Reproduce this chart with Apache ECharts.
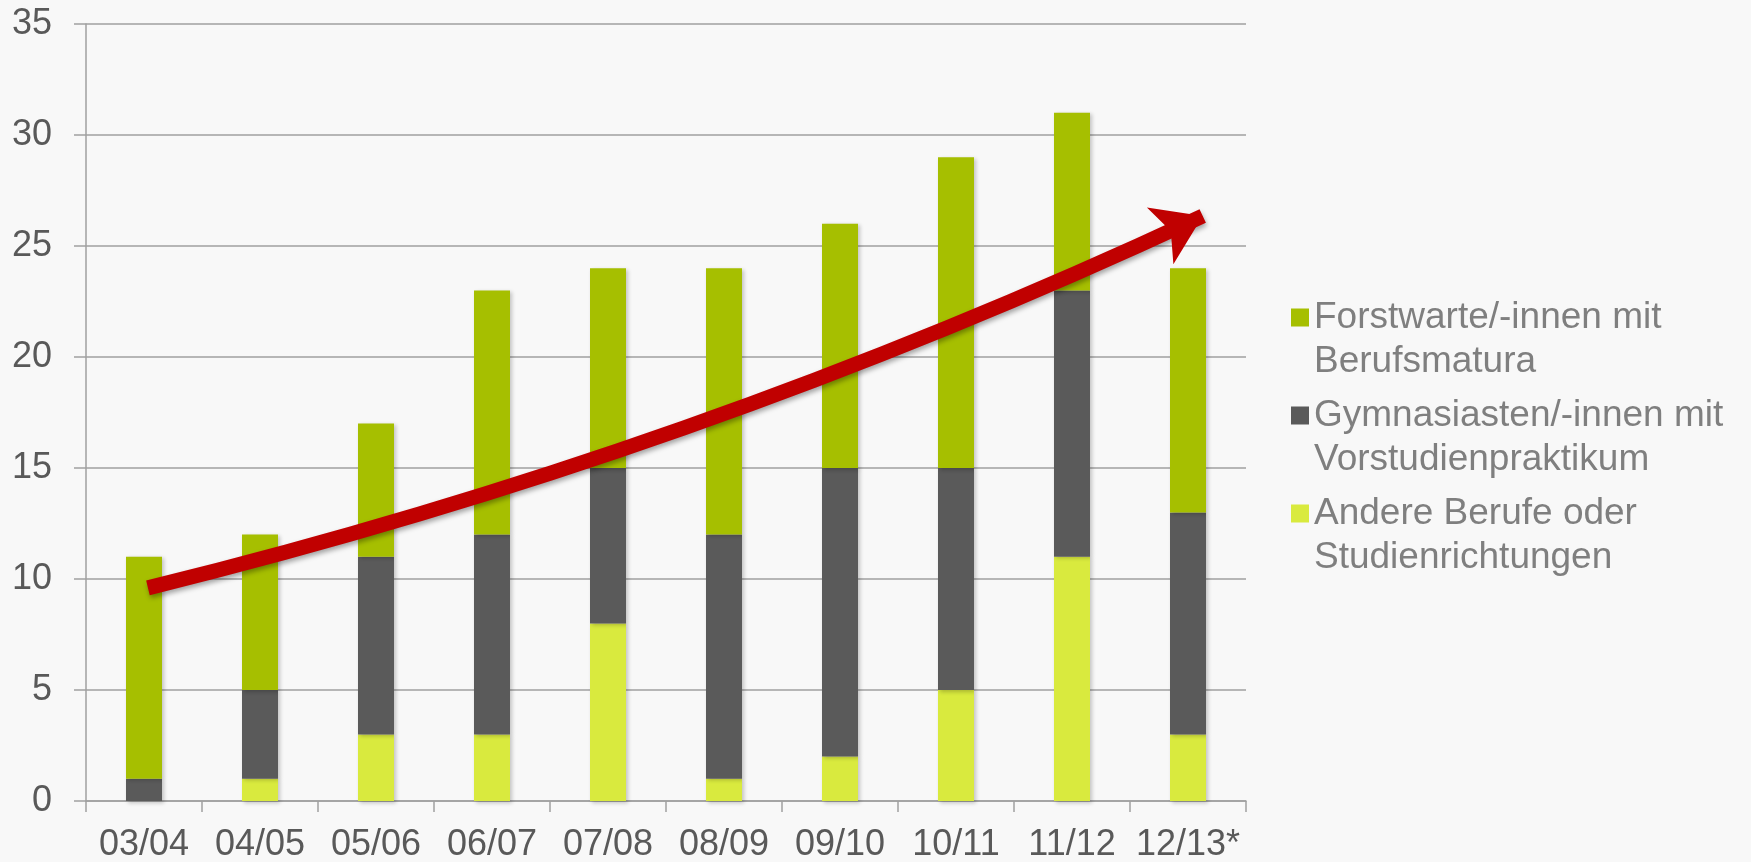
<!DOCTYPE html>
<html>
<head>
<meta charset="utf-8">
<script src="https://cdn.jsdelivr.net/npm/echarts@6/dist/echarts.min.js"></script>
<style>
html,body{margin:0;padding:0;background:#f8f8f8;}
#chart{width:1751px;height:862px;}
</style>
</head>
<body>
<div id="chart"></div>
<script>
var categories = ['03/04','04/05','05/06','06/07','07/08','08/09','09/10','10/11','11/12','12/13*'];
var seriesNames = ['Forstwarte/-innen mit\nBerufsmatura','Gymnasiasten/-innen mit\nVorstudienpraktikum','Andere Berufe oder\nStudienrichtungen'];
var forstwarte = [10, 7, 6, 11, 9, 12, 11, 14, 8, 11];
var gymnasiasten = [1, 4, 8, 9, 7, 11, 13, 10, 12, 10];
var andere = [0, 1, 3, 3, 8, 1, 2, 5, 11, 3];
var yTicks = {min: 0, max: 35, interval: 5};
// trend arrow (category index, value)
var arrowStart = [0.034, 9.6];
var arrowEnd = [9.127, 26.35];

var chart = echarts.init(document.getElementById('chart'), null, {renderer: 'canvas'});
var font = "'Liberation Sans', Arial, sans-serif";
var barShadow = {shadowBlur: 4, shadowOffsetX: 1.5, shadowOffsetY: 1.5, shadowColor: 'rgba(0,0,0,0.22)'};
function barSeries(name, data, color) {
  return {
    name: name, type: 'bar', stack: 'total', data: data, barWidth: 36,
    itemStyle: Object.assign({color: color}, barShadow),
    emphasis: {disabled: true}, silent: true
  };
}
chart.setOption({
  backgroundColor: '#f8f8f8',
  animation: false,
  textStyle: {fontFamily: font},
  grid: {left: 86, right: 505, top: 24, bottom: 61, containLabel: false, outerBoundsMode: 'none'},
  legend: {
    orient: 'vertical', left: 1291, top: 251.5, padding: 0,
    itemWidth: 18, itemHeight: 18, itemGap: -34,
    icon: 'rect', selectedMode: false,
    data: seriesNames.slice(),
    formatter: function (name) { return '\n' + name; },
    textStyle: {fontSize: 37, lineHeight: 44, color: '#7f7f7f', fontFamily: font}
  },
  xAxis: [{
    type: 'category', data: categories, boundaryGap: true,
    axisLine: {lineStyle: {color: '#a0a0a0', width: 1.5}},
    axisTick: {show: true, length: 11, lineStyle: {color: '#a0a0a0', width: 1.5}},
    axisLabel: {fontSize: 36, color: '#595959', margin: 26, fontFamily: font, interval: 0},
    splitLine: {show: false}
  }, {
    type: 'value', min: -0.5, max: 9.5, show: false, gridIndex: 0
  }],
  yAxis: {
    type: 'value', min: yTicks.min, max: yTicks.max, interval: yTicks.interval,
    axisLine: {show: true, onZero: false, lineStyle: {color: '#a0a0a0', width: 1.5}},
    axisTick: {show: true, length: 12, lineStyle: {color: '#a0a0a0', width: 1.5}},
    axisLabel: {fontSize: 36, color: '#595959', margin: 34, fontFamily: font},
    splitLine: {show: true, lineStyle: {color: '#a0a0a0', width: 1.5}}
  },
  series: [
    barSeries(seriesNames[2], andere, '#d9ea3e'),
    barSeries(seriesNames[1], gymnasiasten, '#5a5a5a'),
    barSeries(seriesNames[0], forstwarte, '#a6bf00'),
    {
      type: 'lines', coordinateSystem: 'cartesian2d', xAxisIndex: 1, yAxisIndex: 0,
      silent: true, z: 10,
      symbol: ['none', 'arrow'], symbolSize: [28, 47],
      lineStyle: {color: '#c00000', width: 15, opacity: 1, curveness: -0.049,
        shadowBlur: 5, shadowOffsetX: 1, shadowOffsetY: 3, shadowColor: 'rgba(0,0,0,0.35)'},
      data: [{coords: [arrowStart, arrowEnd]}]
    }
  ]
});
</script>
</body>
</html>
